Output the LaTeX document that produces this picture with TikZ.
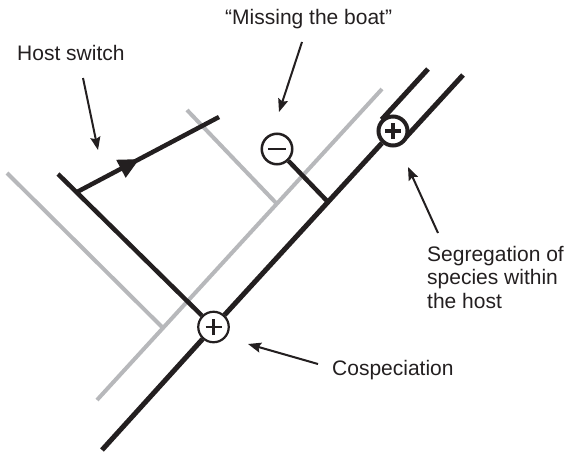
\documentclass[tikz,border=0pt]{standalone}
\usepackage{fontspec}
\setmainfont{Liberation Sans}
\usetikzlibrary{arrows.meta,decorations.markings}
\definecolor{ink}{RGB}{35,31,32}
\definecolor{hostgray}{RGB}{183,184,187}
\tikzset{
  host/.style={draw=hostgray,line width=4pt},
  para/.style={draw=ink,line width=4.5pt},
  mainpara/.style={draw=ink,line width=5pt},
  event/.style={circle,draw=ink,fill=white,inner sep=0pt,minimum size=30.5pt,line width=2.2pt},
  pointer/.style={draw=ink,line width=2pt,-{Stealth[length=13pt,width=10pt,inset=2pt]}},
  lbl/.style={font=\fontsize{21}{23.5}\selectfont,text=ink,inner sep=0pt},
  sign/.style={draw=ink,line width=2.2pt},
}
\begin{document}
\begin{tikzpicture}[x=1pt,y=-1pt]
\useasboundingbox (0,0) rectangle (567,455);
% host tree (gray)
\coordinate (g0) at (97,400);
\coordinate (g1) at (382,89);
\coordinate (gj1) at (163,328);
\coordinate (gj2) at (277,204);
\coordinate (gl1) at (7,173);
\coordinate (gl2) at (187,110);
\draw[host] (g0) -- (g1);
\draw[host] (gl1) -- (gj1);
\draw[host] (gl2) -- (gj2);
% parasite tree (black)
\coordinate (p0) at (102,450);
\coordinate (pb) at (58,174);
\coordinate (pj) at (328,202);
\coordinate (hs0) at (77,192);
\coordinate (hs1) at (219,117);
\coordinate (s1a) at (381.7,119.6);
\coordinate (s1b) at (428,69);
\coordinate (s2a) at (403.6,139.7);
\coordinate (s2b) at (463,75);
\draw[mainpara] (s1a) -- (s1b);
\draw[mainpara] (s2a) -- (s2b);
\node[event] (cosp) at (213.5,327) {};
\node[event,line width=4pt,minimum size=29pt] (seg) at (393,131) {};
\node[event,line width=2.5pt] (miss) at (277,149) {};
\draw[mainpara] (p0) -- (cosp);
\draw[mainpara] (cosp) -- (seg);
\draw[para] (cosp) -- (pb);
\draw[para] (pj) -- (miss);
\draw[para,postaction={decorate},decoration={markings,mark=at position 0.44 with {\arrow{Triangle[length=21pt,width=19pt]}}}] (hs0) -- (hs1);
% signs
\draw[sign] ([xshift=-8pt]cosp.center) -- ([xshift=8pt]cosp.center);
\draw[sign] ([yshift=-8pt]cosp.center) -- ([yshift=8pt]cosp.center);
\draw[sign,line width=4pt] ([xshift=-8pt]seg.center) -- ([xshift=8pt]seg.center);
\draw[sign,line width=4pt] ([yshift=-8pt]seg.center) -- ([yshift=8pt]seg.center);
\draw[sign,line width=2.4pt] ([xshift=-8.7pt]miss.center) -- ([xshift=8.7pt]miss.center);
% labels
\node[lbl,anchor=base west] (lhs) at (17,60) {Host switch};
\node[lbl,anchor=base west] (lmb) at (225,24) {“Missing the boat”};
\node[lbl,anchor=north west,align=left] (lseg) at (427,246) {Segregation of\\species within\\the host};
\node[lbl,anchor=base west] (lcos) at (332,375) {Cospeciation};
% pointers
\coordinate (a1t) at (83,78);
\coordinate (a1h) at (98,150);
\coordinate (a2t) at (302,42);
\coordinate (a2h) at (279,112);
\coordinate (a3t) at (438,233);
\coordinate (a3h) at (408,167);
\coordinate (a4t) at (318,364);
\coordinate (a4h) at (248,344);
\draw[pointer] (a1t) -- (a1h);
\draw[pointer] (a2t) -- (a2h);
\draw[pointer] (a3t) -- (a3h);
\draw[pointer] (a4t) -- (a4h);
\end{tikzpicture}
\end{document}
